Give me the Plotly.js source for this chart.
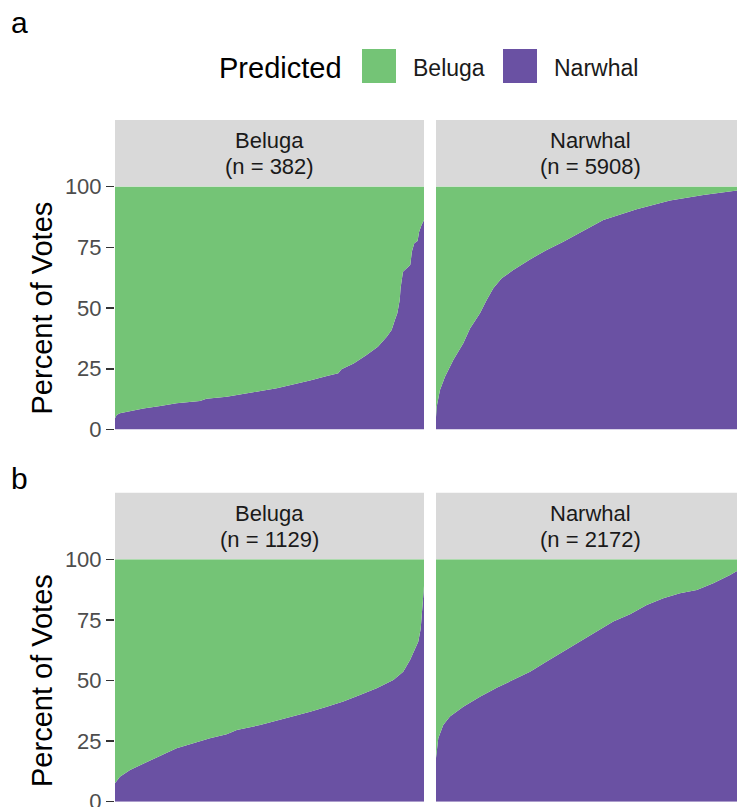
<!DOCTYPE html>
<html>
<head>
<meta charset="utf-8">
<script src="https://cdn.plot.ly/plotly-3.0.1.min.js"></script>
<style>
html,body{margin:0;padding:0;overflow:hidden;background:#fff;}
#chart{width:760px;height:840px;}
</style>
</head>
<body>
<div id="chart"></div>
<script>
// ---- data ----
const panelTags = ["a", "b"];
const classNames = ["Beluga", "Narwhal"];
const colourNames = ["Beluga", "Narwhal"];
const yTicks = [0, 25, 50, 75, 100];

const aBelugaN = 382;
const aBelugaRank = [0,2,6,18,35,56,76,105,113,138,159,180,200,220,241,262,276,280,295,311,325,336,342,346,349,352,353,356,360,365,367,370,374,376,379,382];
const aBelugaNarwhalPct = [4.6,6.0,6.7,7.6,8.6,9.7,10.8,11.7,12.7,13.5,14.5,15.8,17.0,18.5,20.2,22.0,23.1,24.8,27.2,30.7,34.1,38.2,40.9,45.1,47.8,53.3,58.1,64.9,66.0,67.7,73.2,76.6,77.6,81.4,84.2,86.2];

const aNarwhalN = 5908;
const aNarwhalRank = [0,13,76,172,331,522,650,841,969,1096,1256,1478,1797,2117,2434,2753,3199,3837,4474,5111,5749,5908];
const aNarwhalNarwhalPct = [5.0,9.4,16.3,21.7,28.6,35.5,41.6,47.8,53.3,58.1,62.2,65.6,70.0,73.9,77.3,81.0,86.2,90.6,94.2,96.5,98.3,98.8];

const bBelugaN = 1129;
const bBelugaRank = [0,18,55,103,164,225,286,347,408,445,530,591,652,713,774,834,895,956,1017,1053,1078,1096,1108,1117,1122,1127,1129];
const bBelugaNarwhalPct = [7.6,10.3,13.1,15.8,18.9,22.0,24.1,26.2,27.8,29.6,31.6,33.4,35.4,37.1,39.2,41.3,44.0,46.8,50.2,53.6,58.5,62.6,66.0,71.5,79.8,88.0,89.0];

const bNarwhalN = 2172;
const bNarwhalRank = [0,16,51,98,192,309,427,543,661,778,895,1012,1130,1246,1364,1481,1598,1715,1833,1949,2067,2116,2172];
const bNarwhalNarwhalPct = [18.0,26.2,31.6,35.1,39.2,43.3,47.0,50.2,53.6,57.8,61.9,66.0,70.4,74.3,77.3,81.1,83.9,86.0,87.3,90.1,93.5,95.2,96.5];

// ---- styling / layout ----
const GREEN = "#74c476";
const PURPLE = "#6a51a3";
const STRIP = "#d9d9d9";
const FONT = "Liberation Sans, Arial, sans-serif";
const W = 760, H = 840;
const px = v => v / W;
const py = v => 1 - v / H;

const panels = [
  {n: aBelugaN, x: aBelugaRank, y: aBelugaNarwhalPct, tag: 0, cls: 0, ax: ""},
  {n: aNarwhalN, x: aNarwhalRank, y: aNarwhalNarwhalPct, tag: 0, cls: 1, ax: "2"},
  {n: bBelugaN, x: bBelugaRank, y: bBelugaNarwhalPct, tag: 1, cls: 0, ax: "3"},
  {n: bNarwhalN, x: bNarwhalRank, y: bNarwhalNarwhalPct, tag: 1, cls: 1, ax: "4"}
];

// pixel geometry
const colX = [[115, 424], [436, 745]];
const rowY = [[186.5, 429.5], [559.3, 801.7]];   // plot top/bottom
const stripY = [[120, 186.5], [492.7, 559.3]];

const traces = [];
const layout = {
  width: W, height: H,
  margin: {l: 0, r: 0, t: 0, b: 0},
  paper_bgcolor: "#ffffff",
  plot_bgcolor: "#ffffff",
  showlegend: false,
  font: {family: FONT},
  shapes: [],
  annotations: []
};

panels.forEach(p => {
  const xa = "x" + p.ax, ya = "y" + p.ax;
  const sg = "s" + (p.ax || "1");
  traces.push({
    type: "scatter", mode: "lines", x: p.x, y: p.y,
    xaxis: xa, yaxis: ya, stackgroup: sg,
    line: {width: 0, color: PURPLE}, fillcolor: PURPLE,
    name: colourNames[1], hoverinfo: "skip"
  });
  traces.push({
    type: "scatter", mode: "lines", x: p.x, y: p.y.map(v => 100 - v),
    xaxis: xa, yaxis: ya, stackgroup: sg,
    line: {width: 0, color: GREEN}, fillcolor: GREEN,
    name: colourNames[0], hoverinfo: "skip"
  });
  const col = colX[p.cls], row = rowY[p.tag];
  const left = p.cls === 0;
  layout["xaxis" + p.ax] = {
    domain: [px(col[0]), px(col[1])], range: [0, p.n],
    anchor: ya, showgrid: false, zeroline: false, showline: false,
    showticklabels: false, ticks: "", fixedrange: true
  };
  layout["yaxis" + p.ax] = {
    domain: [py(row[1]), py(row[0])], range: [0, 100],
    anchor: xa, showgrid: false, zeroline: false, showline: false,
    tickvals: yTicks, ticktext: yTicks.map(String),
    showticklabels: left, ticks: left ? "outside" : "",
    ticklen: 8, tickwidth: 1.5, tickcolor: "#333333",
    ticklabeloverflow: "allow",
    tickfont: {size: 22, color: "#4d4d4d", family: FONT},
    fixedrange: true
  };
  // strip
  const s = stripY[p.tag];
  layout.shapes.push({
    type: "rect", xref: "paper", yref: "paper", layer: "below",
    x0: px(col[0]), x1: px(col[1]), y0: py(s[1]), y1: py(s[0]),
    fillcolor: STRIP, line: {width: 0}
  });
  const cx = px((col[0] + col[1]) / 2);
  const mid = (s[0] + s[1]) / 2;
  layout.annotations.push({
    xref: "paper", yref: "paper", x: cx, y: py(mid - 12.5),
    xanchor: "center", yanchor: "middle", showarrow: false,
    text: classNames[p.cls], font: {size: 22, color: "#1a1a1a", family: FONT}
  });
  layout.annotations.push({
    xref: "paper", yref: "paper", x: cx, y: py(mid + 13),
    xanchor: "center", yanchor: "middle", showarrow: false,
    text: "(n = " + p.n + ")", font: {size: 22, color: "#1a1a1a", family: FONT}
  });
});

// y-axis titles and panel tags
rowY.forEach((r, i) => {
  layout.annotations.push({
    xref: "paper", yref: "paper", x: px(41.5), y: py((r[0] + r[1]) / 2),
    xanchor: "center", yanchor: "middle", showarrow: false, textangle: -90,
    text: "Percent of Votes", font: {size: 29, color: "#000000", family: FONT}
  });
});
[22.5, 478.5].forEach((yy, i) => {
  layout.annotations.push({
    xref: "paper", yref: "paper", x: px(9), y: py(yy),
    xanchor: "left", yanchor: "middle", showarrow: false,
    text: panelTags[i], font: {size: 30, color: "#000000", family: FONT}
  });
});

// legend (drawn manually)
layout.annotations.push({
  xref: "paper", yref: "paper", x: px(217), y: py(67.5),
  xanchor: "left", yanchor: "middle", showarrow: false,
  text: "Predicted", font: {size: 29, color: "#000000", family: FONT}
});
const legendKeys = [{x0: 362, fill: GREEN, tx: 411, label: colourNames[0]},
                    {x0: 503, fill: PURPLE, tx: 552, label: colourNames[1]}];
legendKeys.forEach(k => {
  layout.shapes.push({
    type: "rect", xref: "paper", yref: "paper",
    x0: px(k.x0), x1: px(k.x0 + 34), y0: py(83), y1: py(49),
    fillcolor: k.fill, line: {width: 0}
  });
  layout.annotations.push({
    xref: "paper", yref: "paper", x: px(k.tx), y: py(68),
    xanchor: "left", yanchor: "middle", showarrow: false,
    text: k.label, font: {size: 23, color: "#1a1a1a", family: FONT}
  });
});

Plotly.newPlot("chart", traces, layout, {staticPlot: true, displayModeBar: false});
</script>
</body>
</html>
